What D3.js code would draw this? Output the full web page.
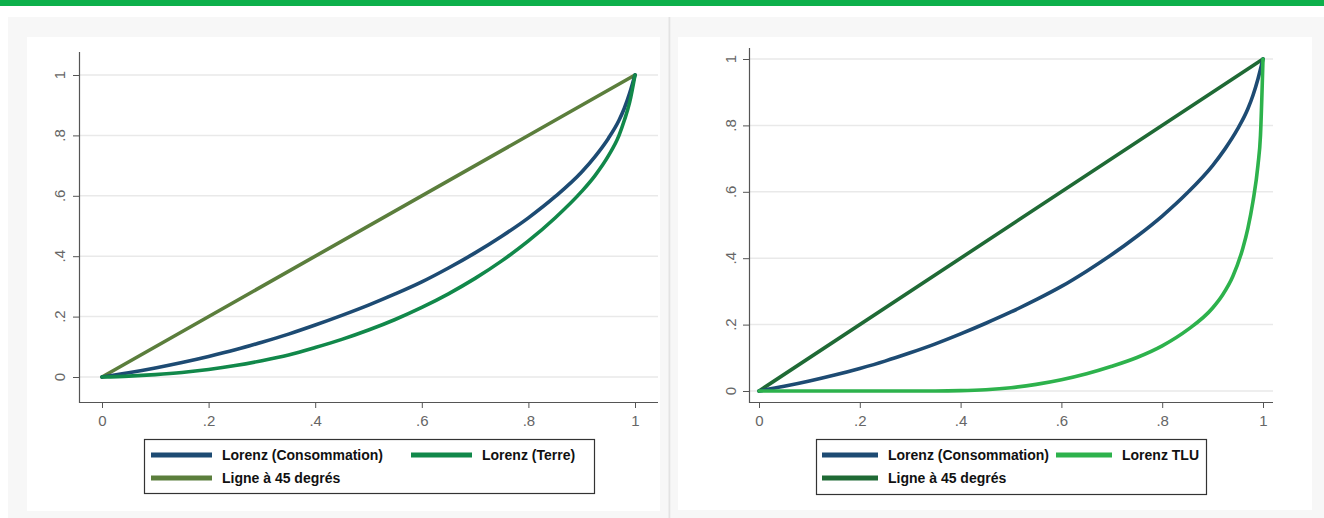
<!DOCTYPE html>
<html>
<head>
<meta charset="utf-8">
<script src="https://cdn.jsdelivr.net/npm/d3@7/dist/d3.min.js"></script>
<style>
html,body{margin:0;padding:0;background:#fff;}
svg{display:block;}
text{font-family:"Liberation Sans",Arial,sans-serif;}
</style>
</head>
<body>
<svg id="chart" width="1324" height="518"></svg>
<script>
// ---- data ----
const xTicks = [0, 0.2, 0.4, 0.6, 0.8, 1];
const yTicks = [0, 0.2, 0.4, 0.6, 0.8, 1];
const tickLabels = ["0", ".2", ".4", ".6", ".8", "1"];

const consX = [0, .05, .1, .15, .2, .25, .3, .35, .4, .45, .5, .55, .6, .65, .7, .75, .8, .85, .9, .925, .95, .97, .98, .99, 1];
const consY = [0, .014, .030, .048, .068, .090, .115, .142, .172, .204, .238, .275, .315, .361, .411, .466, .527, .597, .679, .730, .790, .850, .890, .940, 1];

const terreX = [0, .05, .1, .15, .2, .25, .3, .35, .4, .45, .5, .55, .6, .65, .7, .75, .8, .85, .9, .925, .95, .97, .98, .99, 1];
const terreY = [0, .003, .008, .015, .025, .038, .054, .073, .0975, .1245, .1555, .1905, .2305, .2755, .3265, .3845, .4505, .5265, .6145, .667, .732, .800, .850, .910, 1];

const tluX = [0, .1, .2, .3, .35, .4, .45, .5, .55, .6, .65, .7, .75, .8, .85, .9, .92, .94, .96, .97, .98, .99, .995, 1];
const tluY = [0, 0, 0, 0, 0, .001, .004, .010, .020, .034, .052, .0745, .101, .136, .184, .250, .290, .345, .430, .490, .570, .680, .770, 1];

const lineX = [0, 1];
const lineY = [0, 1];

const leftLabels = ["Lorenz (Consommation)", "Lorenz (Terre)", "Ligne à 45 degrés"];
const rightLabels = ["Lorenz (Consommation)", "Lorenz TLU", "Ligne à 45 degrés"];

// ---- drawing ----
const svg = d3.select("#chart");

svg.append("rect").attr("x", 0).attr("y", 0).attr("width", 1324).attr("height", 6).attr("fill", "#0db04b");
svg.append("rect").attr("x", 8).attr("y", 17).attr("width", 661).attr("height", 501).attr("fill", "#f7f7f7");
svg.append("rect").attr("x", 671).attr("y", 17).attr("width", 653).attr("height", 501).attr("fill", "#f7f7f7");
svg.append("line").attr("x1", 669.5).attr("x2", 669.5).attr("y1", 17).attr("y2", 518).attr("stroke", "#e3e3e3").attr("stroke-width", 2);
svg.append("rect").attr("x", 27).attr("y", 37).attr("width", 633).attr("height", 474).attr("fill", "#fff");
svg.append("rect").attr("x", 678).attr("y", 37).attr("width", 634).attr("height", 473).attr("fill", "#fff");

function zip(xs, ys) { return xs.map((x, i) => [x, ys[i]]); }

function panel(cfg) {
  const g = svg.append("g");
  const x = d3.scaleLinear().domain([0, 1]).range([cfg.x0, cfg.x1]);
  const y = d3.scaleLinear().domain([0, 1]).range([cfg.y0, cfg.y1]);

  g.append("g").selectAll("line").data(yTicks).join("line")
    .attr("x1", cfg.axL).attr("x2", cfg.axR)
    .attr("y1", d => y(d)).attr("y2", d => y(d))
    .attr("stroke", "#e9e9e9").attr("stroke-width", 1.5);

  const xa = g.append("g").attr("transform", `translate(0,${cfg.axB})`)
    .call(d3.axisBottom(x).tickValues(xTicks).tickSize(6).tickPadding(7)
      .tickFormat((d, i) => tickLabels[i]));
  xa.select(".domain").remove();
  xa.selectAll(".tick line").attr("stroke", "#555");
  xa.selectAll(".tick text").attr("fill", "#666").attr("font-size", 15)
    .attr("font-family", "Liberation Sans, Arial, sans-serif");
  g.append("line").attr("x1", cfg.axL).attr("x2", cfg.axR)
    .attr("y1", cfg.axB + 0.5).attr("y2", cfg.axB + 0.5).attr("stroke", "#555").attr("stroke-width", 1.2);

  const ya = g.append("g").attr("transform", `translate(${cfg.axL},0)`)
    .call(d3.axisLeft(y).tickValues(yTicks).tickSize(6).tickFormat(""));
  ya.select(".domain").remove();
  ya.selectAll(".tick line").attr("stroke", "#555");
  g.append("g").selectAll("text").data(yTicks).join("text")
    .attr("transform", d => `translate(${cfg.labX},${y(d)}) rotate(-90)`)
    .attr("text-anchor", "middle").attr("dy", "0.35em")
    .attr("fill", "#666").attr("font-size", 15)
    .text((d, i) => tickLabels[i]);
  g.append("line").attr("x1", cfg.axL + 0.5).attr("x2", cfg.axL + 0.5)
    .attr("y1", cfg.axT).attr("y2", cfg.axB + 1).attr("stroke", "#555").attr("stroke-width", 1.2);

  const line = d3.line().x(d => x(d[0])).y(d => y(d[1])).curve(d3.curveMonotoneX);
  cfg.series.forEach(s => {
    g.append("path").datum(zip(s.xs, s.ys)).attr("d", line)
      .attr("fill", "none").attr("stroke", s.color).attr("stroke-width", 3.6)
      .attr("stroke-linejoin", "round").attr("stroke-linecap", "round");
  });

  const L = cfg.legend;
  g.append("rect").attr("x", L.x + 0.5).attr("y", L.y + 0.5).attr("width", L.w).attr("height", L.h)
    .attr("fill", "#fff").attr("stroke", "#333").attr("stroke-width", 1.2);
  L.items.forEach(it => {
    g.append("line").attr("x1", it.sx).attr("x2", it.sx + L.sw)
      .attr("y1", it.cy).attr("y2", it.cy)
      .attr("stroke", it.color).attr("stroke-width", 5);
    g.append("text").attr("x", it.sx + L.sw + 10).attr("y", it.cy + 5)
      .attr("font-size", 14).attr("font-weight", "bold").attr("fill", "#111")
      .text(it.label);
  });
}

const blue = "#1d4b73";

panel({
  x0: 102, x1: 635, y0: 377, y1: 75,
  axL: 79, axR: 658, axT: 52, axB: 402, labX: 60,
  series: [
    { xs: lineX, ys: lineY, color: "#5b7e3c" },
    { xs: consX, ys: consY, color: blue },
    { xs: terreX, ys: terreY, color: "#11884a" }
  ],
  legend: {
    x: 144, y: 439, w: 450, h: 54, sw: 61,
    items: [
      { sx: 151, cy: 455, color: blue, label: leftLabels[0] },
      { sx: 411, cy: 455, color: "#11884a", label: leftLabels[1] },
      { sx: 151, cy: 478, color: "#5b7e3c", label: leftLabels[2] }
    ]
  }
});

panel({
  x0: 759, x1: 1263, y0: 391, y1: 59,
  axL: 749, axR: 1273, axT: 48, axB: 402, labX: 731,
  series: [
    { xs: lineX, ys: lineY, color: "#1f6a35" },
    { xs: consX, ys: consY, color: blue },
    { xs: tluX, ys: tluY, color: "#2db24c" }
  ],
  legend: {
    x: 816, y: 439, w: 390, h: 55, sw: 56,
    items: [
      { sx: 822, cy: 455, color: blue, label: rightLabels[0] },
      { sx: 1056, cy: 455, color: "#2db24c", label: rightLabels[1] },
      { sx: 822, cy: 478, color: "#1f6a35", label: rightLabels[2] }
    ]
  }
});
</script>
</body>
</html>
